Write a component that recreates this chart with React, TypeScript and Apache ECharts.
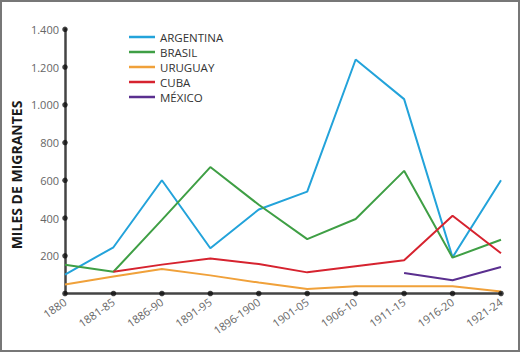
import React, { useEffect, useRef } from "react";
import * as echarts from "echarts";

const categories = ["1880", "1881-85", "1886-90", "1891-95", "1896-1900", "1901-05", "1906-10", "1911-15", "1916-20", "1921-24"];
const argentina = [100, 245, 600, 240, 445, 540, 1240, 1030, 192, 600];
const brasil = [152, 115, 390, 670, 470, 288, 395, 650, 190, 285];
const uruguay = [48, 90, 130, 96, 58, 24, 38, 38, 38, 10];
const cuba = [null, 115, 153, 186, 156, 112, 144, 176, 412, 213];
const mexico = [null, null, null, null, null, null, null, 109, 70, 140];
const yTicks = [200, 400, 600, 800, 1000, 1200, 1400];

const seriesNames = ["ARGENTINA", "BRASIL", "URUGUAY", "CUBA", "MÉXICO"];
const seriesData = [argentina, brasil, uruguay, cuba, mexico];
const colors = ["#23a3da", "#3f9f45", "#f0a13a", "#d6232f", "#5a2f8f"];

const FONT = "'Open Sans', sans-serif";

export default function App() {
  const ref = useRef<HTMLDivElement>(null);
  useEffect(() => {
    const chart = echarts.init(ref.current!, null, { renderer: "svg" });
    const lines = seriesNames.map((name, i) => ({
      name,
      type: "line",
      data: seriesData[i],
      showSymbol: false,
      symbol: "none",
      lineStyle: { width: 2, color: colors[i] },
      itemStyle: { color: colors[i] },
      z: 3,
    }));
    chart.setOption({
      animation: false,
      backgroundColor: "#fff",
      textStyle: { fontFamily: FONT },
      grid: { left: 65, right: 19, top: 29.3, bottom: 58.5, containLabel: false },
      legend: {
        data: seriesNames,
        orient: "vertical",
        left: 124,
        top: 26,
        icon: "rect",
        itemWidth: 26,
        itemHeight: 2.5,
        itemGap: 3,
        textStyle: { fontSize: 11.5, color: "#333", fontFamily: FONT, lineHeight: 12 },
      },
      xAxis: {
        type: "category",
        data: categories,
        boundaryGap: false,
        axisLine: { lineStyle: { color: "#444", width: 2.5 } },
        axisTick: { show: false },
        axisLabel: { rotate: 35, color: "#666", fontSize: 11, margin: 7, fontFamily: FONT },
        splitLine: { show: false },
      },
      yAxis: {
        type: "value",
        min: 0,
        max: 1400,
        interval: 200,
        axisLine: { show: true, lineStyle: { color: "#444", width: 2.5 } },
        axisTick: { show: false },
        splitLine: { show: false },
        axisLabel: {
          color: "#666",
          fontSize: 11,
          margin: 6,
          fontFamily: FONT,
          formatter: (v: number) => (v === 0 ? "" : String(v).replace(/\B(?=(\d{3})+(?!\d))/g, ".")),
        },
      },
      graphic: [
        {
          type: "rect",
          shape: { x: 1, y: 1, width: 518, height: 350 },
          style: { fill: "none", stroke: "#777", lineWidth: 2 },
          silent: true,
        },
        {
          type: "text",
          x: 16,
          y: 175,
          rotation: Math.PI / 2,
          style: {
            text: "MILES DE MIGRANTES",
            fontSize: 14,
            fontWeight: "bold",
            fontFamily: FONT,
            fill: "#1a1a1a",
            align: "center",
            verticalAlign: "middle",
          },
        },
      ],
      series: [
        ...lines,
        {
          name: "ticksY",
          type: "scatter",
          data: yTicks.map((v) => [categories[0], v]),
          symbolSize: 5.5,
          itemStyle: { color: "#111" },
          z: 5,
          clip: false,
        },
        {
          name: "ticksX",
          type: "scatter",
          data: categories.map((c) => [c, 0]),
          symbolSize: 5.5,
          itemStyle: { color: "#111" },
          z: 5,
          clip: false,
        },
      ],
    });
    return () => chart.dispose();
  }, []);
  return (
    <div style={{ position: "fixed", left: 0, top: 0, width: 520, height: 352 }}>
      <div ref={ref} style={{ width: 520, height: 352 }} />
    </div>
  );
}
